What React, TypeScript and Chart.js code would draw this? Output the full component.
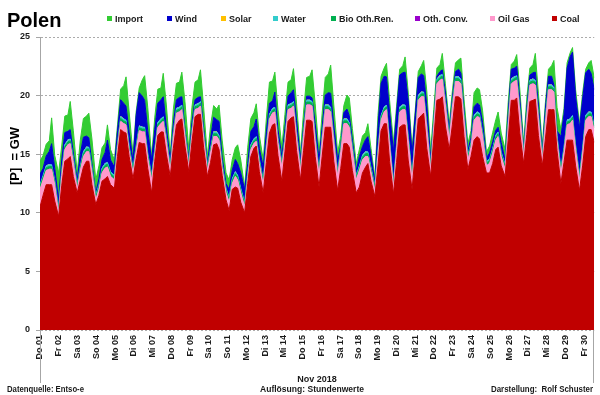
import { useEffect, useRef } from "react";
import { Chart, registerables } from "chart.js";

Chart.register(...registerables);

// ---- data (GW), six samples per day at the hours below ----
const dayLabels = [
  "Do 01", "Fr 02", "Sa 03", "So 04", "Mo 05", "Di 06", "Mi 07", "Do 08", "Fr 09", "Sa 10",
  "So 11", "Mo 12", "Di 13", "Mi 14", "Do 15", "Fr 16", "Sa 17", "So 18", "Mo 19", "Di 20",
  "Mi 21", "Do 22", "Fr 23", "Sa 24", "So 25", "Mo 26", "Di 27", "Mi 28", "Do 29", "Fr 30",
];
const sampleHours = [2, 6, 10, 14, 17, 21];
const yTickValues = [0, 5, 10, 15, 20, 25];

const coal = [
  10.5, 11.5, 12.4, 12.4, 12.4, 11.0,
  9.7, 12.3, 14.4, 14.6, 14.8, 13.1,
  11.7, 12.8, 13.9, 14.4, 14.4, 12.4,
  10.7, 11.5, 12.7, 12.9, 13.1, 12.4,
  12.1, 14.8, 17.1, 16.9, 16.8, 14.8,
  12.9, 14.6, 16.0, 15.9, 15.9, 13.8,
  11.7, 14.4, 16.6, 16.9, 16.9, 15.0,
  13.1, 15.5, 17.5, 17.9, 18.0, 15.7,
  13.5, 16.0, 18.2, 18.4, 18.4, 15.6,
  13.1, 14.3, 15.8, 15.9, 15.4, 13.2,
  11.1, 10.2, 12.0, 12.2, 12.1, 10.9,
  10.0, 12.5, 14.8, 15.5, 15.7, 13.5,
  11.7, 14.3, 16.8, 17.5, 17.6, 14.9,
  12.7, 15.2, 17.8, 18.1, 18.2, 15.3,
  12.8, 15.3, 17.9, 17.9, 17.8, 14.8,
  12.2, 14.8, 17.3, 17.3, 17.3, 14.4,
  11.9, 13.8, 15.9, 15.9, 15.6, 13.6,
  11.7, 12.2, 13.4, 13.9, 14.2, 12.7,
  11.4, 14.0, 17.0, 17.6, 17.6, 14.4,
  11.6, 14.3, 17.3, 17.5, 17.5, 14.5,
  12.0, 15.0, 18.0, 18.3, 18.5, 15.5,
  13.1, 16.3, 19.6, 19.7, 19.9, 17.4,
  15.4, 17.5, 19.9, 19.9, 19.7, 16.5,
  13.7, 14.8, 16.2, 16.5, 16.3, 14.8,
  13.4, 13.4, 14.2, 15.4, 15.6, 14.0,
  13.1, 16.2, 19.6, 19.6, 19.8, 16.8,
  14.2, 16.7, 19.5, 19.6, 19.7, 16.6,
  14.0, 16.3, 18.8, 18.8, 18.8, 15.3,
  12.5, 14.3, 16.2, 16.2, 16.2, 14.0,
  11.9, 14.0, 16.5, 17.1, 17.1, 16.0,
];

const oilGas = [
  1.5, 1.3, 1.2, 1.3, 1.3, 1.4,
  0.3, 0.9, 1.0, 1.2, 1.1, 1.2,
  0.3, 0.8, 0.9, 0.8, 0.8, 1.1,
  0.4, 0.5, 0.7, 0.9, 0.8, 0.7,
  0.7, 0.7, 0.7, 0.7, 0.7, 0.5,
  0.5, 0.7, 1.0, 1.0, 1.0, 0.9,
  1.1, 0.6, 0.7, 0.7, 0.9, 1.1,
  0.5, 1.0, 1.0, 0.7, 0.8, 0.9,
  0.4, 0.7, 0.6, 0.5, 0.7, 0.9,
  0.5, 0.8, 0.7, 0.6, 0.8, 0.6,
  0.6, 0.7, 0.5, 0.9, 0.7, 0.8,
  0.5, 0.5, 0.6, 0.4, 0.4, 0.7,
  0.7, 1.1, 1.2, 1.0, 1.0, 1.1,
  1.2, 0.9, 1.0, 0.8, 0.9, 1.2,
  0.8, 1.3, 1.3, 1.3, 1.3, 1.4,
  1.0, 1.4, 1.5, 1.5, 1.3, 1.7,
  1.2, 1.4, 1.7, 1.7, 1.7, 1.7,
  1.1, 1.4, 1.1, 0.9, 0.6, 0.8,
  0.5, 1.0, 0.9, 1.0, 1.2, 1.4,
  0.6, 1.1, 1.3, 1.3, 1.3, 1.7,
  0.8, 1.2, 1.6, 1.6, 1.4, 1.7,
  0.6, 1.1, 1.4, 1.6, 1.5, 1.8,
  0.8, 1.5, 1.3, 1.3, 1.3, 1.5,
  0.8, 0.8, 1.7, 1.7, 1.8, 1.7,
  0.6, 0.8, 0.9, 0.8, 0.9, 0.8,
  0.6, 1.2, 1.4, 1.6, 1.5, 1.8,
  0.6, 1.4, 1.4, 1.4, 1.2, 1.5,
  0.5, 1.4, 1.7, 1.7, 1.5, 0.9,
  0.9, 0.9, 1.3, 1.4, 1.7, 1.4,
  0.9, 1.1, 1.4, 1.1, 1.1, 1.0,
];

const othConv = [
  0.05, 0.05, 0.05, 0.05, 0.05, 0.05,
  0.05, 0.05, 0.05, 0.05, 0.05, 0.05,
  0.05, 0.05, 0.05, 0.05, 0.05, 0.05,
  0.05, 0.05, 0.05, 0.05, 0.05, 0.05,
  0.05, 0.05, 0.05, 0.05, 0.05, 0.05,
  0.05, 0.05, 0.05, 0.05, 0.05, 0.05,
  0.05, 0.05, 0.05, 0.05, 0.05, 0.05,
  0.05, 0.05, 0.05, 0.05, 0.05, 0.05,
  0.05, 0.05, 0.05, 0.05, 0.05, 0.05,
  0.05, 0.05, 0.05, 0.05, 0.05, 0.05,
  0.05, 0.05, 0.05, 0.05, 0.05, 0.05,
  0.05, 0.05, 0.05, 0.05, 0.05, 0.05,
  0.05, 0.05, 0.05, 0.05, 0.05, 0.05,
  0.05, 0.05, 0.05, 0.05, 0.05, 0.05,
  0.05, 0.05, 0.05, 0.05, 0.05, 0.05,
  0.05, 0.05, 0.05, 0.05, 0.05, 0.05,
  0.05, 0.05, 0.05, 0.05, 0.05, 0.05,
  0.05, 0.05, 0.05, 0.05, 0.05, 0.05,
  0.05, 0.05, 0.05, 0.05, 0.05, 0.05,
  0.05, 0.05, 0.05, 0.05, 0.05, 0.05,
  0.05, 0.05, 0.05, 0.05, 0.05, 0.05,
  0.05, 0.05, 0.05, 0.05, 0.05, 0.05,
  0.05, 0.05, 0.05, 0.05, 0.05, 0.05,
  0.05, 0.05, 0.05, 0.05, 0.05, 0.05,
  0.05, 0.05, 0.05, 0.05, 0.05, 0.05,
  0.05, 0.05, 0.05, 0.05, 0.05, 0.05,
  0.05, 0.05, 0.05, 0.05, 0.05, 0.05,
  0.05, 0.05, 0.05, 0.05, 0.05, 0.05,
  0.05, 0.05, 0.05, 0.05, 0.05, 0.05,
  0.05, 0.05, 0.05, 0.05, 0.05, 0.05,
];

const bio = [
  0.2, 0.2, 0.2, 0.2, 0.2, 0.2,
  0.2, 0.2, 0.2, 0.2, 0.2, 0.2,
  0.2, 0.2, 0.2, 0.2, 0.2, 0.2,
  0.2, 0.2, 0.2, 0.2, 0.2, 0.2,
  0.2, 0.2, 0.2, 0.2, 0.2, 0.2,
  0.2, 0.2, 0.2, 0.2, 0.2, 0.2,
  0.2, 0.2, 0.2, 0.2, 0.2, 0.2,
  0.2, 0.2, 0.2, 0.2, 0.2, 0.2,
  0.2, 0.2, 0.2, 0.2, 0.2, 0.2,
  0.2, 0.2, 0.2, 0.2, 0.2, 0.2,
  0.2, 0.2, 0.2, 0.2, 0.2, 0.2,
  0.2, 0.2, 0.2, 0.2, 0.2, 0.2,
  0.2, 0.2, 0.2, 0.2, 0.2, 0.2,
  0.2, 0.2, 0.2, 0.2, 0.2, 0.2,
  0.2, 0.2, 0.2, 0.2, 0.2, 0.2,
  0.2, 0.2, 0.2, 0.2, 0.2, 0.2,
  0.2, 0.2, 0.2, 0.2, 0.2, 0.2,
  0.2, 0.2, 0.2, 0.2, 0.2, 0.2,
  0.2, 0.2, 0.2, 0.2, 0.2, 0.2,
  0.2, 0.2, 0.2, 0.2, 0.2, 0.2,
  0.2, 0.2, 0.2, 0.2, 0.2, 0.2,
  0.2, 0.2, 0.2, 0.2, 0.2, 0.2,
  0.2, 0.2, 0.2, 0.2, 0.2, 0.2,
  0.2, 0.2, 0.2, 0.2, 0.2, 0.2,
  0.2, 0.2, 0.2, 0.2, 0.2, 0.2,
  0.2, 0.2, 0.2, 0.2, 0.2, 0.2,
  0.2, 0.2, 0.2, 0.2, 0.2, 0.2,
  0.2, 0.2, 0.2, 0.2, 0.2, 0.2,
  0.2, 0.2, 0.2, 0.2, 0.2, 0.2,
  0.2, 0.2, 0.2, 0.2, 0.2, 0.2,
];

const water = [
  0.15, 0.15, 0.15, 0.15, 0.15, 0.15,
  0.15, 0.15, 0.15, 0.15, 0.15, 0.15,
  0.15, 0.15, 0.15, 0.15, 0.15, 0.15,
  0.15, 0.15, 0.15, 0.15, 0.15, 0.15,
  0.15, 0.15, 0.15, 0.15, 0.15, 0.15,
  0.15, 0.15, 0.15, 0.15, 0.15, 0.15,
  0.15, 0.15, 0.15, 0.15, 0.15, 0.15,
  0.15, 0.15, 0.15, 0.15, 0.15, 0.15,
  0.15, 0.15, 0.15, 0.15, 0.15, 0.15,
  0.15, 0.15, 0.15, 0.15, 0.15, 0.15,
  0.15, 0.15, 0.15, 0.15, 0.15, 0.15,
  0.15, 0.15, 0.15, 0.15, 0.15, 0.15,
  0.15, 0.15, 0.15, 0.15, 0.15, 0.15,
  0.15, 0.15, 0.15, 0.15, 0.15, 0.15,
  0.15, 0.15, 0.15, 0.15, 0.15, 0.15,
  0.15, 0.15, 0.15, 0.15, 0.15, 0.15,
  0.15, 0.15, 0.15, 0.15, 0.15, 0.15,
  0.15, 0.15, 0.15, 0.15, 0.15, 0.15,
  0.15, 0.15, 0.15, 0.15, 0.15, 0.15,
  0.15, 0.15, 0.15, 0.15, 0.15, 0.15,
  0.15, 0.15, 0.15, 0.15, 0.15, 0.15,
  0.15, 0.15, 0.15, 0.15, 0.15, 0.15,
  0.15, 0.15, 0.15, 0.15, 0.15, 0.15,
  0.15, 0.15, 0.15, 0.15, 0.15, 0.15,
  0.15, 0.15, 0.15, 0.15, 0.15, 0.15,
  0.15, 0.15, 0.15, 0.15, 0.15, 0.15,
  0.15, 0.15, 0.15, 0.15, 0.15, 0.15,
  0.15, 0.15, 0.15, 0.15, 0.15, 0.15,
  0.15, 0.15, 0.15, 0.15, 0.15, 0.15,
  0.15, 0.15, 0.15, 0.15, 0.15, 0.15,
];

const solar = [
  0, 0, 0.05, 0.05, 0, 0,
  0, 0, 0.05, 0.05, 0, 0,
  0, 0, 0.05, 0.05, 0, 0,
  0, 0, 0.05, 0.05, 0, 0,
  0, 0, 0.05, 0.05, 0, 0,
  0, 0, 0.05, 0.05, 0, 0,
  0, 0, 0.05, 0.05, 0, 0,
  0, 0, 0.05, 0.05, 0, 0,
  0, 0, 0.05, 0.05, 0, 0,
  0, 0, 0.05, 0.05, 0, 0,
  0, 0, 0.05, 0.05, 0, 0,
  0, 0, 0.05, 0.05, 0, 0,
  0, 0, 0.05, 0.05, 0, 0,
  0, 0, 0.05, 0.05, 0, 0,
  0, 0, 0.05, 0.05, 0, 0,
  0, 0, 0.05, 0.05, 0, 0,
  0, 0, 0.05, 0.05, 0, 0,
  0, 0, 0.05, 0.05, 0, 0,
  0, 0, 0.05, 0.05, 0, 0,
  0, 0, 0.05, 0.05, 0, 0,
  0, 0, 0.05, 0.05, 0, 0,
  0, 0, 0.05, 0.05, 0, 0,
  0, 0, 0.05, 0.05, 0, 0,
  0, 0, 0.05, 0.05, 0, 0,
  0, 0, 0.05, 0.05, 0, 0,
  0, 0, 0.05, 0.05, 0, 0,
  0, 0, 0.05, 0.05, 0, 0,
  0, 0, 0.05, 0.05, 0, 0,
  0, 0, 0.05, 0.05, 0, 0,
  0, 0, 0.05, 0.05, 0, 0,
];

const wind = [
  0.9, 0.6, 0.8, 1.1, 1.8, 1.0,
  0.7, 0.9, 1.0, 0.7, 0.8, 0.4,
  0.4, 1.0, 1.2, 0.9, 0.8, 0.3,
  0.2, 0.5, 0.7, 0.9, 1.9, 1.0,
  0.7, 1.1, 1.4, 1.3, 1.2, 1.2,
  0.6, 2.6, 2.8, 2.6, 2.3, 1.9,
  1.3, 1.7, 1.6, 1.6, 1.7, 0.8,
  0.5, 0.7, 0.7, 0.8, 0.7, 0.2,
  0.3, 0.6, 0.4, 0.5, 0.4, 0.4,
  0.2, 0.8, 1.2, 1.0, 1.2, 0.5,
  0.4, 0.7, 0.7, 1.0, 1.0, 1.3,
  1.1, 0.8, 1.1, 1.0, 1.5, 0.9,
  1.1, 1.1, 0.9, 0.6, 1.3, 0.7,
  0.5, 0.7, 0.7, 0.9, 1.0, 1.0,
  0.5, 0.4, 0.3, 0.3, 0.3, 1.0,
  0.9, 0.7, 0.8, 1.0, 1.2, 1.0,
  1.0, 0.1, 0.5, 0.8, 0.6, 0.5,
  0.4, 0.8, 0.7, 1.0, 1.3, 1.0,
  0.3, 1.9, 2.7, 2.6, 2.4, 2.4,
  2.6, 2.7, 2.7, 2.7, 2.8, 3.0,
  1.8, 1.7, 1.5, 1.5, 1.4, 1.6,
  0.4, 0.2, 0.2, 0.3, 0.4, 0.7,
  0.4, 0.4, 0.4, 0.6, 0.5, 0.4,
  0.4, 0.4, 0.7, 0.7, 0.7, 0.8,
  0.3, 0.5, 0.5, 0.4, 0.4, 0.8,
  0.4, 0.7, 0.8, 0.7, 0.8, 0.7,
  0.2, 0.5, 0.4, 0.5, 0.7, 0.7,
  0.2, 0.8, 0.7, 0.7, 0.2, 0.4,
  2.7, 2.8, 4.4, 5.3, 5.4, 4.1,
  4.0, 4.2, 3.6, 3.6, 3.3, 3.1,
];

const imports = [
  1.1, 1.1, 1.0, 0.9, 2.2, 1.1,
  2.3, 1.2, 1.4, 1.4, 2.4, 1.9,
  0.6, 1.2, 1.6, 1.7, 2.1, 2.1,
  1.1, 1.1, 1.0, 0.8, 1.3, 0.9,
  0.6, 0.5, 0.9, 1.5, 2.5, 1.7,
  0.6, 0.3, 0.4, 1.4, 2.1, 2.0,
  0.3, 1.0, 1.2, 1.0, 2.0, 1.9,
  0.5, 1.2, 1.4, 1.3, 2.1, 2.3,
  0.8, 1.3, 1.5, 1.5, 2.3, 1.8,
  0.6, 1.1, 1.0, 0.9, 1.4, 1.5,
  0.9, 0.8, 0.9, 1.0, 1.6, 1.1,
  0.2, 1.4, 1.1, 1.2, 1.3, 1.1,
  0.6, 1.1, 1.8, 1.7, 1.7, 1.7,
  0.8, 1.2, 1.2, 1.1, 1.8, 1.4,
  0.6, 1.2, 1.6, 1.7, 2.4, 1.7,
  0.6, 1.2, 1.5, 1.6, 2.4, 1.7,
  0.6, 0.9, 0.6, 1.2, 1.5, 1.0,
  0.6, 0.6, 0.9, 0.6, 1.1, 0.6,
  0.4, 1.0, 0.6, 0.7, 1.15, 1.0,
  0.8, 0.6, 0.5, 0.6, 1.3, 0.7,
  0.5, 0.4, 0.5, 0.7, 1.3, 1.2,
  0.8, 0.8, 0.7, 0.6, 1.4, 0.7,
  0.6, 0.6, 0.75, 0.8, 1.3, 0.9,
  0.6, 0.6, 1.2, 1.3, 1.3, 1.0,
  0.5, 0.6, 0.8, 0.9, 1.3, 0.8,
  0.9, 0.9, 0.4, 0.6, 1.0, 0.85,
  0.5, 0.8, 0.6, 0.7, 1.6, 1.0,
  0.6, 0.5, 0.6, 0.9, 2.1, 2.0,
  0.6, 0.5, 0.45, 0.3, 0.4, 0.6,
  0.4, 0.5, 0.3, 0.55, 1.1, 1.0,
];

const FONT = '"Liberation Sans", Arial, sans-serif';
const TEXT = "#1a1a1a";

const seriesDefs = [
  { label: "Coal", values: coal, color: "#C00000", bw: 1 },
  { label: "Oil Gas", values: oilGas, color: "#FF99CC", bw: 1 },
  { label: "Oth. Conv.", values: othConv, color: "#9900CC", bw: 0 },
  { label: "Bio Oth.Ren.", values: bio, color: "#00B050", bw: 1 },
  { label: "Water", values: water, color: "#33CCCC", bw: 1 },
  { label: "Solar", values: solar, color: "#FFC000", bw: 0 },
  { label: "Wind", values: wind, color: "#0000CC", bw: 1 },
  { label: "Import", values: imports, color: "#33CC33", bw: 1 },
];

const legendOrder = ["Import", "Wind", "Solar", "Water", "Bio Oth.Ren.", "Oth. Conv.", "Oil Gas", "Coal"];
const legendX = [107, 167, 221, 273, 331, 415, 490, 552];

const extrasPlugin = {
  id: "extras",
  afterDraw(chart: any) {
    const ctx = chart.ctx as CanvasRenderingContext2D;
    const { left, right, bottom } = chart.chartArea;
    ctx.save();
    ctx.strokeStyle = "#A6A6A6";
    ctx.lineWidth = 1;
    ctx.beginPath();
    ctx.moveTo(Math.round(left) + 0.5, bottom);
    ctx.lineTo(Math.round(left) + 0.5, 383);
    ctx.moveTo(Math.round(right) - 0.5, bottom);
    ctx.lineTo(Math.round(right) - 0.5, 383);
    ctx.stroke();

    ctx.fillStyle = "#000";
    ctx.textBaseline = "alphabetic";
    ctx.textAlign = "left";
    ctx.font = `bold 20px ${FONT}`;
    ctx.fillText("Polen", 7, 27);

    ctx.font = `bold 9px ${FONT}`;
    legendOrder.forEach((name, i) => {
      const def = seriesDefs.find((s) => s.label === name)!;
      const x = legendX[i];
      ctx.fillStyle = def.color;
      ctx.fillRect(x, 16, 5, 5);
      ctx.fillStyle = TEXT;
      ctx.fillText(name, x + 8, 22);
    });

    ctx.save();
    ctx.translate(19, 156);
    ctx.rotate(-Math.PI / 2);
    ctx.textAlign = "center";
    ctx.font = `bold 13px ${FONT}`;
    ctx.fillStyle = "#000";
    ctx.fillText("[P]  = GW", 0, 0);
    ctx.restore();

    ctx.fillStyle = TEXT;
    ctx.font = `bold 9px ${FONT}`;
    ctx.textAlign = "center";
    ctx.fillText("Nov 2018", 317, 382);
    ctx.fillText("Auflösung: Stundenwerte", 312, 392, 104);
    ctx.textAlign = "left";
    ctx.fillText("Datenquelle: Entso-e", 7, 392, 77);
    ctx.textAlign = "right";
    ctx.fillText("Darstellung:  Rolf Schuster", 593, 392, 102);
    ctx.restore();
  },
};

export default function App() {
  const ref = useRef<HTMLCanvasElement>(null);

  useEffect(() => {
    if (!ref.current) return;
    const xs: number[] = [];
    dayLabels.forEach((_, d) => sampleHours.forEach((h) => xs.push(d + h / 24)));

    const datasets = seriesDefs.map((s, i) => ({
      label: s.label,
      data: s.values.map((v, k) => ({ x: xs[k], y: v })),
      backgroundColor: s.color,
      borderColor: s.color,
      borderWidth: s.bw,
      pointRadius: 0,
      pointHoverRadius: 0,
      tension: 0,
      fill: i === 0 ? "origin" : "-1",
      xAxisID: "x",
      yAxisID: "y",
    }));

    const chart = new Chart(ref.current, {
      type: "line",
      data: { datasets: datasets as any },
      options: {
        responsive: false,
        animation: false,
        devicePixelRatio: 1,
        layout: { padding: { top: 37, right: 5, left: 0, bottom: 0 } },
        plugins: {
          legend: { display: false },
          tooltip: { enabled: false },
          title: { display: false },
        },
        scales: {
          x: {
            type: "linear",
            display: false,
            min: sampleHours[0] / 24,
            max: dayLabels.length - 1 + sampleHours[sampleHours.length - 1] / 24,
          },
          xl: {
            type: "linear",
            position: "bottom",
            min: 0,
            max: 29.54,
            grid: { display: false, drawTicks: false },
            border: { display: false },
            afterBuildTicks: (s: any) => {
              s.ticks = dayLabels.map((_, i) => ({ value: i }));
            },
            afterFit: (s: any) => {
              s.height = 65;
            },
            ticks: {
              autoSkip: false,
              maxRotation: 90,
              minRotation: 90,
              padding: 5,
              color: TEXT,
              font: { family: FONT, size: 9, weight: "bold" },
              callback: (v: any) => dayLabels[Math.round(Number(v))] ?? "",
            },
          },
          y: {
            type: "linear",
            stacked: true,
            min: 0,
            max: 25,
            afterBuildTicks: (s: any) => {
              s.ticks = yTickValues.map((v) => ({ value: v }));
            },
            afterFit: (s: any) => {
              s.width = 40;
            },
            grid: {
              color: "#ABABAB",
              lineWidth: 1,
              drawTicks: true,
              tickLength: 4,
              tickColor: "#A6A6A6",
            },
            border: { display: true, color: "#A6A6A6", width: 1, dash: [2, 2] },
            ticks: {
              padding: 6,
              color: TEXT,
              font: { family: FONT, size: 9, weight: "bold" },
            },
          },
        } as any,
      },
      plugins: [extrasPlugin],
    });
    return () => chart.destroy();
  }, []);

  return (
    <div style={{ position: "absolute", left: 0, top: 0, width: 600, height: 395, background: "#fff" }}>
      <canvas ref={ref} width={600} height={395} style={{ display: "block", width: 600, height: 395 }} />
    </div>
  );
}
